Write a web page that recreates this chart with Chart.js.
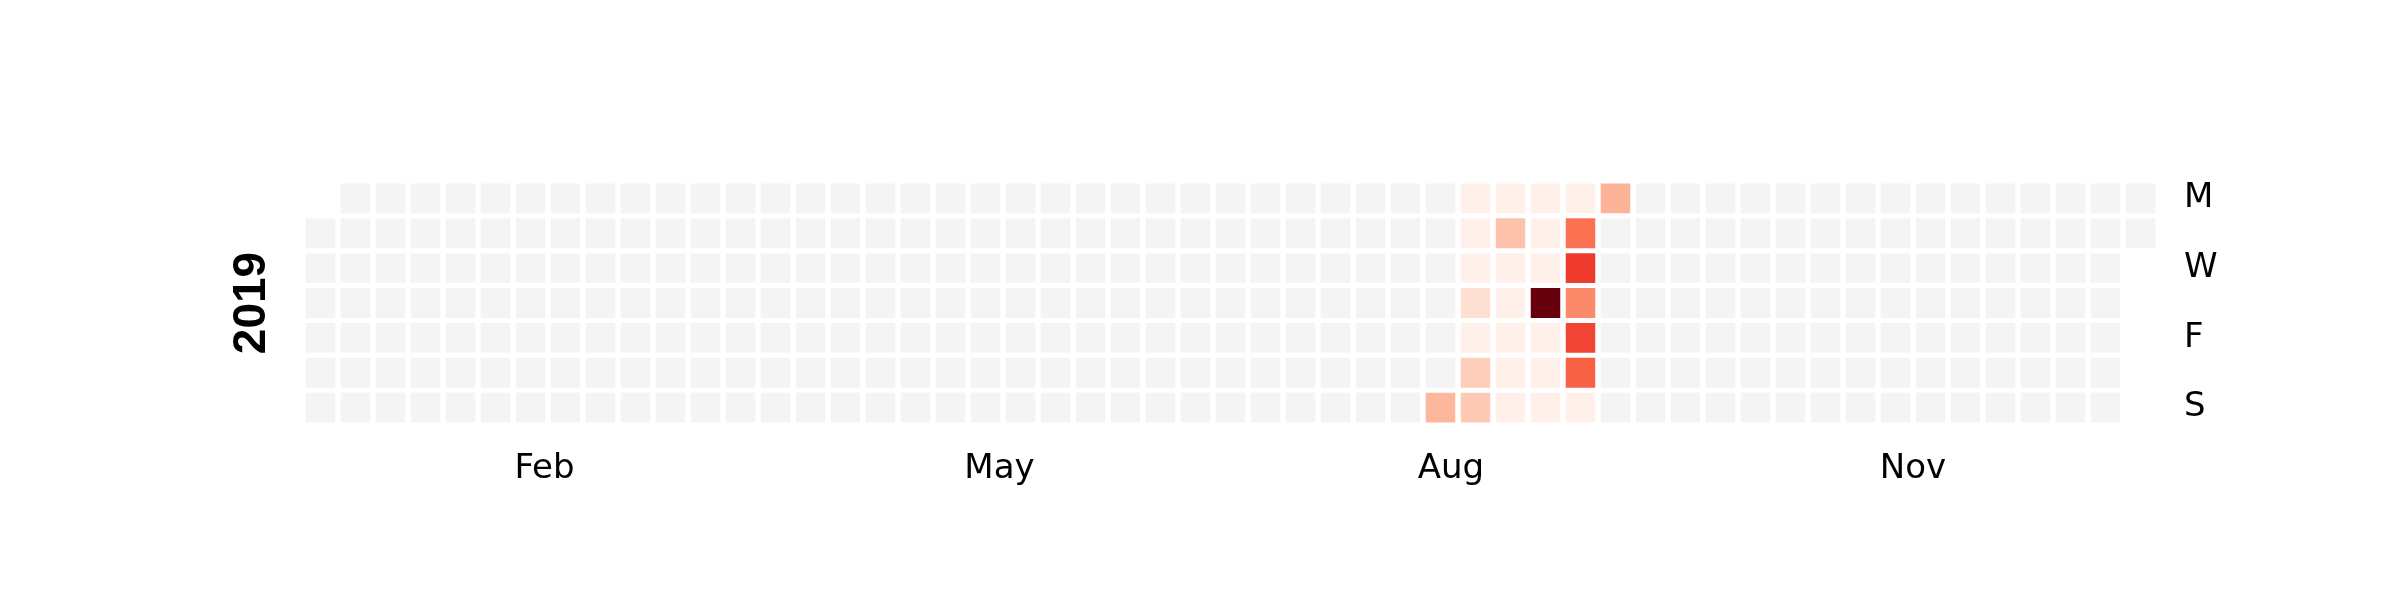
<!DOCTYPE html>
<html>
<head>
<meta charset="utf-8">
<script src="https://cdn.jsdelivr.net/npm/chart.js@4"></script>
<style>
  html, body { margin: 0; background: #fff; }
  #wrap { width: 2400px; height: 600px; }
</style>
</head>
<body>
<div id="wrap"><canvas id="c"></canvas></div>
<script>
// Calendar year and day values (only the non-zero days)
const year = 2019;
const activeDates = [
  '2019-08-18',
  '2019-08-19', '2019-08-20', '2019-08-21', '2019-08-22', '2019-08-23', '2019-08-24', '2019-08-25',
  '2019-08-26', '2019-08-27', '2019-08-28', '2019-08-29', '2019-08-30', '2019-08-31', '2019-09-01',
  '2019-09-02', '2019-09-03', '2019-09-04', '2019-09-05', '2019-09-06', '2019-09-07', '2019-09-08',
  '2019-09-09', '2019-09-10', '2019-09-11', '2019-09-12', '2019-09-13', '2019-09-14', '2019-09-15',
  '2019-09-16'
];
const activeValues = [
  10.5,
  1, 1, 1, 5, 1, 7.5, 8,
  1, 9, 1, 1, 1, 1, 1,
  1, 1, 1, 40, 1, 1, 1,
  1, 19, 25, 16, 24, 21, 1,
  11
];
const maxValue = 40;
const dayLabels = ['M', 'T', 'W', 'T', 'F', 'S', 'S'];
const shownDayRows = [0, 2, 4, 6];
const monthLabels = ['Feb', 'May', 'Aug', 'Nov'];
const monthTickWeeks = [6.9, 19.9, 32.8, 46.0];

// Reds colormap
const reds = ['#fff5f0', '#fee0d2', '#fcbba1', '#fc9272', '#fb6a4a', '#ef3b2c', '#cb181d', '#a50f15', '#67000d'];
function hex(h) { return [1, 3, 5].map(i => parseInt(h.slice(i, i + 2), 16)); }
function redsColor(t) {
  t = Math.max(0, Math.min(1, t)) * (reds.length - 1);
  const i = Math.min(Math.floor(t), reds.length - 2), f = t - i;
  const a = hex(reds[i]), b = hex(reds[i + 1]);
  return 'rgb(' + a.map((v, k) => Math.round(v + (b[k] - v) * f)).join(',') + ')';
}

// Build week/day grid (weeks start Monday)
const valueByDate = {};
activeDates.forEach((d, i) => { valueByDate[d] = activeValues[i]; });
const jan1 = new Date(Date.UTC(year, 0, 1));
const offset = (jan1.getUTCDay() + 6) % 7;
const nDays = 365;
const nWeeks = Math.ceil((nDays + offset) / 7);
const weeks = Array.from({ length: nWeeks }, (_, i) => String(i));
const grid = dayLabels.map(() => new Array(nWeeks).fill(null));
const gridVals = dayLabels.map(() => new Array(nWeeks).fill(null));
for (let d = 0; d < nDays; d++) {
  const dt = new Date(jan1.getTime() + d * 86400000);
  const idx = d + offset;
  const w = Math.floor(idx / 7), r = idx % 7;
  grid[r][w] = [r, r + 1];
  gridVals[r][w] = valueByDate[dt.toISOString().slice(0, 10)] || 0;
}

const datasets = dayLabels.map((lab, r) => ({
  data: grid[r],
  backgroundColor: ctx => {
    const v = gridVals[r][ctx.dataIndex];
    return v ? redsColor(v / maxValue) : '#f4f4f4';
  },
  borderColor: '#ffffff',
  borderWidth: { top: 2.5, bottom: 2.5, left: 0, right: 0 },
  borderSkipped: false,
  grouped: false,
  categoryPercentage: 1,
  barPercentage: 30 / 35
}));

new Chart(document.getElementById('c'), {
  type: 'bar',
  data: { labels: weeks, datasets },
  options: {
    responsive: true,
    maintainAspectRatio: false,
    animation: false,
    layout: { padding: { left: 225, top: 181, right: 0, bottom: 0 } },
    plugins: { legend: { display: false }, tooltip: { enabled: false } },
    scales: {
      x: { display: false, grid: { display: false } },
      x2: {
        type: 'linear', position: 'bottom', min: 0, max: nWeeks, offset: false,
        grid: { display: false, offset: false }, border: { display: false },
        afterBuildTicks: s => { s.ticks = monthTickWeeks.map(v => ({ value: v })); },
        afterFit: s => { s.height = 600 - 425; },
        ticks: {
          padding: 16, color: '#000', maxRotation: 0, autoSkip: false,
          font: { family: 'DejaVu Sans', size: 34 },
          callback: (v, i) => monthLabels[i]
        }
      },
      y: {
        type: 'linear', position: 'right', min: 0, max: 7, reverse: true,
        grid: { display: false }, border: { display: false },
        afterBuildTicks: s => { s.ticks = shownDayRows.map(r => ({ value: r + 0.5 })); },
        afterFit: s => { s.width = 2400 - 2158; },
        ticks: {
          padding: 18, color: '#000', autoSkip: false,
          font: { family: 'DejaVu Sans', size: 34 },
          callback: (v, i) => dayLabels[shownDayRows[i]]
        }
      },
      yLeft: {
        type: 'linear', position: 'left', min: 0, max: 7, reverse: true,
        grid: { display: false }, border: { display: false },
        ticks: { display: false },
        afterFit: s => { s.width = 303 - 225; },
        title: {
          display: true, text: String(year), color: '#000', padding: 0,
          font: { family: 'Liberation Sans', size: 46, weight: 'bold' }
        }
      }
    }
  }
});
</script>
</body>
</html>
